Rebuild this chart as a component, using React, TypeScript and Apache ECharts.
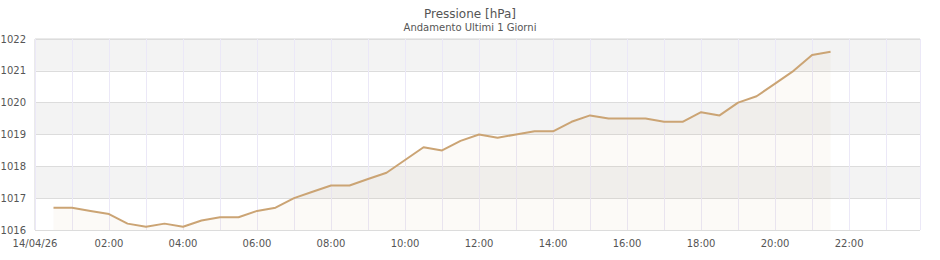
import React, { useEffect, useRef } from "react";
import * as echarts from "echarts";

const dateLabel = "14/04/26";
const times = [
  "00:30", "01:00", "01:30", "02:00", "02:30", "03:00", "03:30", "04:00", "04:30", "05:00",
  "05:30", "06:00", "06:30", "07:00", "07:30", "08:00", "08:30", "09:00", "09:30", "10:00",
  "10:30", "11:00", "11:30", "12:00", "12:30", "13:00", "13:30", "14:00", "14:30", "15:00",
  "15:30", "16:00", "16:30", "17:00", "17:30", "18:00", "18:30", "19:00", "19:30", "20:00",
  "20:30", "21:00", "21:30",
];
const pressure = [
  1016.7, 1016.7, 1016.6, 1016.5, 1016.2, 1016.1, 1016.2, 1016.1, 1016.3, 1016.4,
  1016.4, 1016.6, 1016.7, 1017.0, 1017.2, 1017.4, 1017.4, 1017.6, 1017.8, 1018.2,
  1018.6, 1018.5, 1018.8, 1019.0, 1018.9, 1019.0, 1019.1, 1019.1, 1019.4, 1019.6,
  1019.5, 1019.5, 1019.5, 1019.4, 1019.4, 1019.7, 1019.6, 1020.0, 1020.2, 1020.6,
  1021.0, 1021.5, 1021.6,
];
const yMin = 1016;
const yMax = 1022;

const toMin = (t: string) => {
  const [h, m] = t.split(":").map(Number);
  return h * 60 + m;
};
const pad = (n: number) => (n < 10 ? "0" + n : "" + n);

export default function App() {
  const ref = useRef<HTMLDivElement>(null);
  useEffect(() => {
    if (!ref.current) return;
    const chart = echarts.init(ref.current, null, { renderer: "svg" });
    const font = "DejaVu Sans";
    chart.setOption({
      animation: false,
      backgroundColor: "#ffffff",
      title: [
        {
          text: "Pressione [hPa]",
          left: "center",
          top: 3,
          textStyle: { fontFamily: font, fontSize: 12, fontWeight: "normal", color: "#555" },
        },
        {
          text: "Andamento Ultimi 1 Giorni",
          left: "center",
          top: 17,
          textStyle: { fontFamily: font, fontSize: 10, fontWeight: "normal", color: "#555" },
        },
      ],
      grid: {
        left: 35,
        top: 39,
        right: 20,
        bottom: 30,
        containLabel: false,
        outerBoundsMode: "none",
        show: true,
        borderColor: "#d4d4d4",
        borderWidth: 1,
      },
      xAxis: {
        type: "value",
        min: 0,
        max: 1435,
        interval: 60,
        axisLine: { show: false },
        axisTick: { show: false },
        axisLabel: {
          showMaxLabel: false,
          fontFamily: font,
          fontSize: 10,
          color: "#555",
          margin: 8,
          formatter: (v: number) => {
            if (v === 0) return dateLabel;
            if (v % 120 === 0) return pad(v / 60) + ":00";
            return "";
          },
        },
        splitLine: { show: true, lineStyle: { color: "#ebe8f7", width: 1 } },
      },
      yAxis: {
        type: "value",
        min: yMin,
        max: yMax,
        interval: 1,
        axisLine: { show: false },
        axisTick: { show: false },
        axisLabel: {
          fontFamily: font,
          fontSize: 10,
          color: "#555",
          margin: 9,
          formatter: (v: number) => String(v),
        },
        splitLine: { show: true, lineStyle: { color: "#dcdcdc", width: 1 } },
        splitArea: { show: true, areaStyle: { color: ["#ffffff", "#f3f3f3"] } },
      },
      series: [
        {
          type: "line",
          data: times.map((t, i) => [toMin(t), pressure[i]]),
          showSymbol: false,
          lineStyle: { color: "#cba474", width: 2 },
          itemStyle: { color: "#cba474" },
          areaStyle: { color: "rgba(203,163,116,0.08)", origin: "start" },
        },
      ],
    });
    return () => chart.dispose();
  }, []);
  return (
    <div
      ref={ref}
      style={{ position: "absolute", left: 0, top: 0, width: 940, height: 260 }}
    />
  );
}
